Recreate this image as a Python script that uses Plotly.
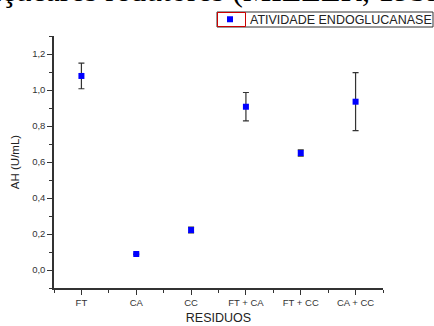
import plotly.graph_objects as go

categories = ["FT", "CA", "CC", "FT + CA", "FT + CC", "CA + CC"]
values = [1.078, 0.089, 0.222, 0.907, 0.650, 0.935]
errors = [0.071, 0.004, 0.016, 0.079, 0.018, 0.161]
series_name = "ATIVIDADE ENDOGLUCANASE"
y_ticks = [0.0, 0.2, 0.4, 0.6, 0.8, 1.0, 1.2]

W, H = 434, 326
L, R, T, B = 54, 51, 36, 38
pw, ph = W - L - R, H - T - B

def px(x):
    return (x - L) / pw

def py(y):
    return (H - B - y) / ph

xidx = list(range(len(categories)))

fig = go.Figure()
fig.add_trace(go.Scatter(
    x=xidx, y=values, mode="markers", name=series_name,
    marker=dict(symbol="square", size=6, color="#0000FF"),
    error_y=dict(type="data", array=errors, visible=True, color="#333333", thickness=1.2, width=3),
    showlegend=True,
))

axis_font = dict(family="Liberation Sans, Arial", size=9.5, color="#333333")
fig.update_layout(
    width=W, height=H,
    margin=dict(l=L, r=R, t=T, b=B, autoexpand=False),
    paper_bgcolor="white", plot_bgcolor="white",
    separators=",.",
    font=dict(family="Liberation Sans, Arial", color="#333333"),
    legend=dict(x=px(210), y=py(19.5), xanchor="left", yanchor="middle",
                font=dict(family="Liberation Sans, Arial", size=12.5, color="#222222"),
                bgcolor="rgba(0,0,0,0)", borderwidth=0, tracegroupgap=0),
    xaxis=dict(range=[-0.5, 5.5], tickmode="array", tickvals=xidx, ticktext=categories,
               showgrid=False, zeroline=False, showline=True, linecolor="#333333", linewidth=1.5,
               ticks="outside", ticklen=5, tickwidth=1.2, tickcolor="#333333",
               tickfont=axis_font,
               minor=dict(tickmode="linear", tick0=0.5, dtick=1, ticks="outside", ticklen=3,
                          tickwidth=1.2, tickcolor="#333333", showgrid=False),
               title=dict(text="RESIDUOS", font=dict(family="Liberation Sans, Arial", size=12.5, color="#222222"), standoff=6)),
    yaxis=dict(range=[-0.1, 1.3], tickmode="array", tickvals=y_ticks, tickformat=".1f",
               showgrid=False, zeroline=False, showline=True, linecolor="#333333", linewidth=1.5,
               ticks="outside", ticklen=5, tickwidth=1.2, tickcolor="#333333",
               tickfont=axis_font,
               minor=dict(tickmode="linear", tick0=0.1, dtick=0.2, ticks="outside", ticklen=3,
                          tickwidth=1.2, tickcolor="#333333", showgrid=False),
               title=dict(text="AH (U/mL)", font=dict(family="Liberation Sans, Arial", size=11.5, color="#222222"), standoff=10)),
    shapes=[
        dict(type="rect", xref="paper", yref="paper", x0=px(217), x1=px(433), y0=py(27), y1=py(12),
             line=dict(color="#333333", width=1), fillcolor="white", layer="above"),
        dict(type="rect", xref="paper", yref="paper", x0=px(217.5), x1=px(245.5), y0=py(26.5), y1=py(12.5),
             line=dict(color="#CC0000", width=1)),
    ],
    annotations=[
        dict(text="açúcares redutores (MILLER, 1959)", xref="paper", yref="paper",
             x=px(-15), y=py(-10), xanchor="left", yanchor="middle", showarrow=False,
             font=dict(family="Liberation Serif, Times New Roman", size=32, color="#000000")),
    ],
)

fig.write_html("out.html", config={"displayModeBar": False},
               post_script="document.body.style.margin='0';document.body.style.overflow='hidden';")
